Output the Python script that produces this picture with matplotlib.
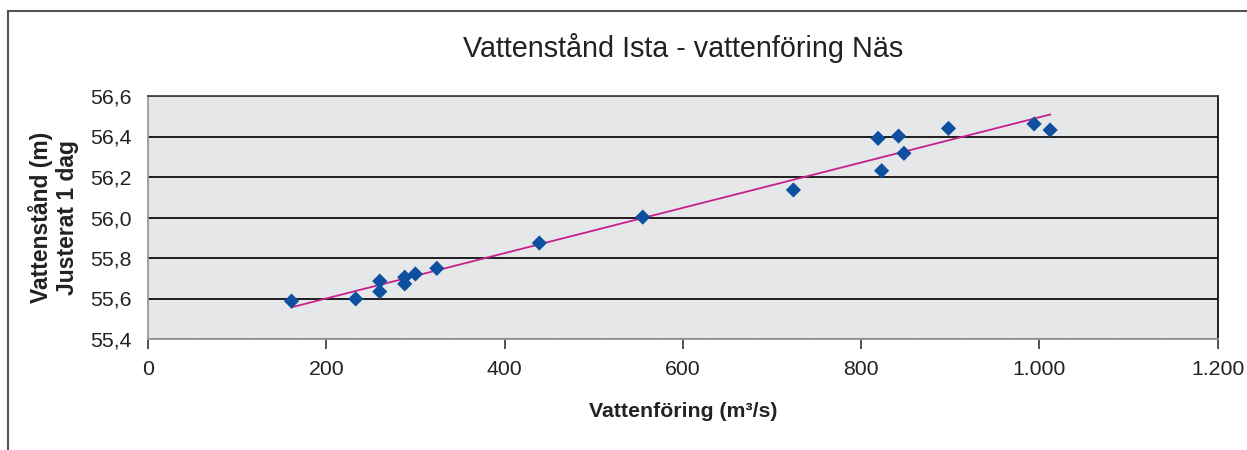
import numpy as np
import matplotlib
matplotlib.use('Agg')
import matplotlib.pyplot as plt
from matplotlib.lines import Line2D
from matplotlib.ticker import MultipleLocator, FuncFormatter

plt.rcParams['font.family'] = ['Liberation Sans', 'DejaVu Sans']

# Vattenföring Näs (m3/s) and vattenstånd Ista (m)
flow = [161, 233, 260, 260, 288, 288, 300, 324, 439, 555,
        724, 819, 823, 842, 848, 898, 994, 1012]
level = [55.587, 55.598, 55.686, 55.634, 55.705, 55.672, 55.721, 55.749, 55.874, 56.002,
         56.136, 56.391, 56.231, 56.402, 56.317, 56.440, 56.462, 56.432]

title = 'Vattenstånd Ista - vattenföring Näs'
x_label = 'Vattenföring (m³/s)'
y_label = 'Vattenstånd (m)\nJusterat 1 dag'

W, H = 1247, 450
fig = plt.figure(figsize=(W / 100, H / 100), dpi=100)
ax = fig.add_axes([148 / W, 1 - 339 / H, (1217.7 - 148) / W, (339 - 96) / H])
ax.set_facecolor('#e6e7e9')

# linear trend line
k, m = np.polyfit(flow, level, 1)
xs = np.array([min(flow), max(flow)])
ax.plot(xs, k * xs + m, color='#c8208c', lw=1.3, zorder=3)

ax.scatter(flow, level, marker='D', s=60, color='#0f4fa0', edgecolors='none', zorder=4)

ax.set_xlim(0, 1200)
ax.set_ylim(55.4, 56.6)
ax.xaxis.set_major_locator(MultipleLocator(200))
ax.xaxis.set_minor_locator(MultipleLocator(400 / 7))
ax.yaxis.set_major_locator(MultipleLocator(0.2))

ax.xaxis.set_major_formatter(FuncFormatter(lambda v, p: f'{v:,.0f}'.replace(',', '.')))
ax.yaxis.set_major_formatter(FuncFormatter(lambda v, p: f'{v:.1f}'.replace('.', ',')))

ax.grid(axis='y', color='#1e1e1e', lw=1.4)
ax.set_axisbelow(True)

ax.spines['left'].set_color('#999999')
ax.spines['bottom'].set_color('#999999')
ax.spines['top'].set_color('#444444')
ax.spines['right'].set_color('#111111')
for s in ax.spines.values():
    s.set_linewidth(1.3)

ax.tick_params(axis='x', which='major', direction='out', length=7, width=1.2,
               color='#333333', labelsize=15.3, pad=8, labelcolor='#222222')
ax.tick_params(axis='x', which='minor', direction='in', length=3, width=1, color='#f5f5f5')
ax.tick_params(axis='y', which='major', length=0, labelsize=15.3, pad=12, labelcolor='#222222')

ax.set_title(title, fontsize=20.7, color='#222222', pad=28)
ax.set_xlabel(x_label, fontsize=15.3, fontweight='bold', color='#222222', labelpad=17)
ax.set_ylabel(y_label, fontsize=16.5, fontweight='bold', color='#222222', labelpad=8,
              linespacing=1.15)

# outer chart frame (left and top edges visible)
fig.add_artist(Line2D([8 / W, 8 / W], [0, 1 - 11 / H], color='#555555', lw=1.5))
fig.add_artist(Line2D([8 / W, 1], [1 - 11 / H, 1 - 11 / H], color='#555555', lw=1.5))

fig.savefig('out.png', dpi=100)
